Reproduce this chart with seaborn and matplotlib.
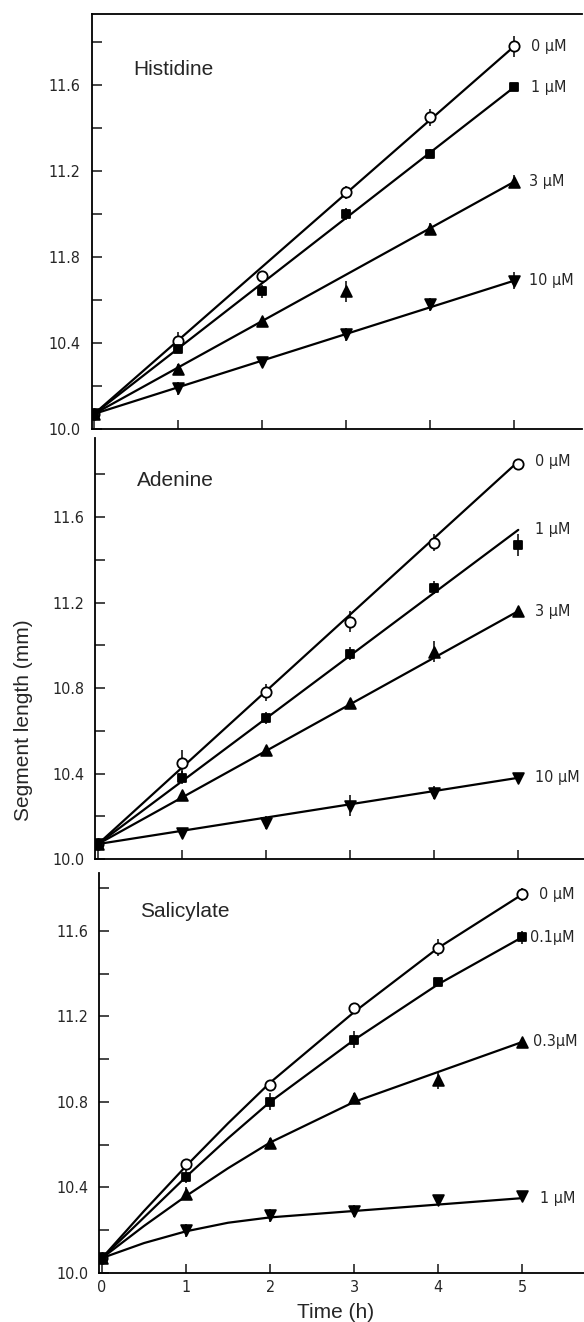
import os
import numpy as np
import pandas as pd
import matplotlib.pyplot as plt
from matplotlib import font_manager as fm
import seaborn as sns

# measured points (x = time in h)
time_h = [0, 1, 2, 3, 4, 5]

# Histidine
his_labels = ['0 µM', '1 µM', '3 µM', '10 µM']
his_0 = [10.07, 10.41, 10.71, 11.10, 11.45, 11.78]
his_1 = [10.07, 10.37, 10.64, 11.00, 11.28, 11.59]
his_3 = [10.07, 10.28, 10.50, 10.64, 10.93, 11.15]
his_10 = [10.07, 10.19, 10.31, 10.44, 10.58, 10.69]
his_err = [[0, 0.04, 0.02, 0.03, 0.04, 0.05],
           [0, 0, 0.03, 0.03, 0.02, 0.02],
           [0, 0.02, 0.02, 0.05, 0.03, 0.03],
           [0, 0.03, 0.02, 0.03, 0.03, 0.04]]
his_fit_x = [0, 5]
his_fit = [[10.07, 11.78], [10.07, 11.59], [10.07, 11.15], [10.07, 10.69]]

# Adenine
ade_labels = ['0 µM', '1 µM', '3 µM', '10 µM']
ade_0 = [10.07, 10.45, 10.78, 11.11, 11.48, 11.85]
ade_1 = [10.07, 10.38, 10.66, 10.96, 11.27, 11.47]
ade_3 = [10.07, 10.30, 10.51, 10.73, 10.97, 11.16]
ade_10 = [10.07, 10.12, 10.17, 10.25, 10.31, 10.38]
ade_err = [[0, 0.06, 0.04, 0.05, 0.04, 0.02],
           [0, 0.03, 0.03, 0.03, 0.03, 0.05],
           [0, 0.02, 0.02, 0.02, 0.05, 0.02],
           [0, 0.02, 0.03, 0.05, 0.03, 0.02]]
ade_fit_x = [0, 5]
ade_fit = [[10.07, 11.86], [10.07, 11.54], [10.07, 11.16], [10.07, 10.38]]

# Salicylate
sal_labels = ['0 µM', '0.1µM', '0.3µM', '1 µM']
sal_0 = [10.07, 10.51, 10.88, 11.24, 11.52, 11.77]
sal_01 = [10.07, 10.45, 10.80, 11.09, 11.36, 11.57]
sal_03 = [10.07, 10.37, 10.61, 10.82, 10.90, 11.08]
sal_1 = [10.07, 10.20, 10.27, 10.29, 10.34, 10.36]
sal_err = [[0, 0.02, 0.02, 0.02, 0.04, 0.03],
           [0, 0.03, 0.04, 0.04, 0.02, 0.03],
           [0, 0.03, 0.02, 0.02, 0.04, 0.02],
           [0, 0.03, 0.03, 0.03, 0.02, 0.02]]
sal_fit_x = [0, 0.5, 1, 1.5, 2, 3, 4, 5]
sal_fit = [[10.07, 10.29, 10.50, 10.70, 10.89, 11.22, 11.52, 11.77],
           [10.07, 10.26, 10.45, 10.63, 10.80, 11.09, 11.35, 11.57],
           [10.07, 10.22, 10.36, 10.49, 10.61, 10.80, 10.94, 11.08],
           [10.07, 10.14, 10.195, 10.235, 10.26, 10.29, 10.32, 10.35]]

y_ticks = [10.0, 10.4, 10.8, 11.2, 11.6]
his_ytick_labels = ['10.0', '10.4', '11.8', '11.2', '11.6']
ytick_labels = ['10.0', '10.4', '10.8', '11.2', '11.6']
x_ticks = [0, 1, 2, 3, 4, 5]

markers = ['o', 's', '^', 'v']
faces = ['white', 'black', 'black', 'black']
sizes = [55, 36, 60, 60]

sns.set_style('ticks')
plt.rcParams['font.family'] = ['Liberation Sans', 'DejaVu Sans']

# narrow font for the numbers, if one is installed
narrow_path = None
for key in ['LiberationSansNarrow-Regular', 'DejaVuSansCondensed.ttf', 'Condensed-Regular']:
    for f in fm.fontManager.ttflist:
        if key in os.path.basename(f.fname):
            narrow_path = f.fname
            break
    if narrow_path:
        break
if narrow_path:
    num_font = fm.FontProperties(fname=narrow_path, size=11.5)
else:
    num_font = fm.FontProperties(family='Liberation Sans', size=10.5)

W, H = 584, 1322
fig = plt.figure(figsize=(W / 100, H / 100), dpi=100)


def make_axes(left, top, bottom):
    # pixel box -> figure fraction, 84 px per hour
    return fig.add_axes([left / W, 1 - bottom / H, 490 / W, (bottom - top) / H])


panels = [
    ('Histidine', make_axes(91.5, 14, 429), 11.93, [his_0, his_1, his_3, his_10],
     his_err, his_fit_x, his_fit, his_labels, his_ytick_labels, (0.47, 11.67),
     [5.2, 5.2, 5.18, 5.17]),
    ('Adenine', make_axes(95.5, 438, 859), 11.97, [ade_0, ade_1, ade_3, ade_10],
     ade_err, ade_fit_x, ade_fit, ade_labels, ytick_labels, (0.46, 11.77),
     [5.2, 5.2, 5.2, 5.2]),
    ('Salicylate', make_axes(99.5, 873, 1273), 11.87, [sal_0, sal_01, sal_03, sal_1],
     sal_err, sal_fit_x, sal_fit, sal_labels, ytick_labels, (0.45, 11.69),
     [5.2, 5.09, 5.13, 5.21]),
]

for i, (name, ax, ytop, series, errs, fx, fits, labels, ylabs, tpos, lab_x) in enumerate(panels):
    for j in range(4):
        sns.lineplot(x=fx, y=fits[j], ax=ax, color='black', linewidth=1.6,
                     sort=False, estimator=None, zorder=2)
        ax.errorbar(time_h, series[j], yerr=errs[j], fmt='none', ecolor='black',
                    elinewidth=1.1, capsize=0, zorder=3)
        sns.scatterplot(x=time_h, y=series[j], ax=ax, marker=markers[j], s=sizes[j],
                        color=faces[j], edgecolor='black', linewidth=1.3, zorder=4)
        ax.text(lab_x[j], fits[j][-1], labels[j], fontproperties=num_font,
                ha='left', va='center')

    ax.text(tpos[0], tpos[1], name, fontsize=15, ha='left', va='center')

    ax.set_xlim(-0.03, 5.8)
    ax.set_ylim(10.0, ytop)
    ax.set_yticks(y_ticks)
    ax.set_yticklabels(ylabs, fontproperties=num_font)
    ax.set_yticks([10.2, 10.6, 11.0, 11.4, 11.8], minor=True)
    ax.set_xticks(x_ticks)
    ax.tick_params(axis='y', which='both', direction='in', length=7, width=1.2, pad=8)
    ax.tick_params(axis='x', which='both', direction='in', length=6.5, width=1.2, pad=5)
    ax.set_xlabel('')
    ax.set_ylabel('')
    if i == 2:
        ax.set_xticklabels([str(t) for t in x_ticks], fontproperties=num_font)
    else:
        ax.set_xticklabels([])

    for side in ['left', 'bottom', 'top']:
        ax.spines[side].set_linewidth(1.3)
        ax.spines[side].set_color('black')
    ax.spines['right'].set_visible(False)
    ax.spines['top'].set_visible(i == 0)
    ax.set_facecolor('white')

fig.text(24 / W, 1 - 720 / H, 'Segment length (mm)', rotation=90, fontsize=15,
         ha='center', va='center')
fig.text(336 / W, 1 - 1312 / H, 'Time (h)', fontsize=15, ha='center', va='center')

fig.savefig('out.png', dpi=100, facecolor='white')
